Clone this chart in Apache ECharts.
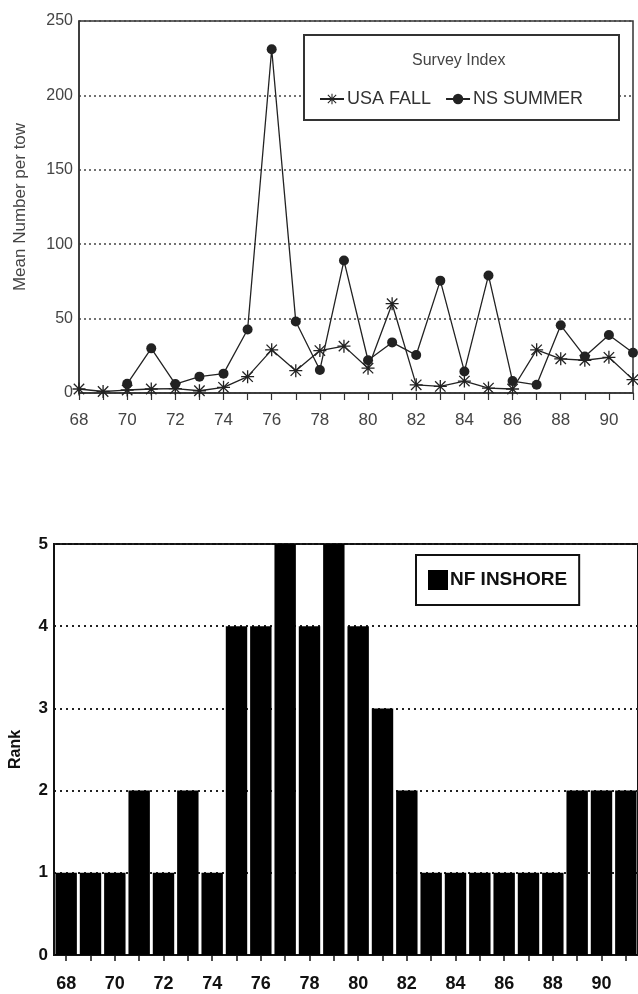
<!DOCTYPE html>
<html>
<head>
<meta charset="utf-8">
<script src="https://cdn.jsdelivr.net/npm/echarts@6/dist/echarts.min.js"></script>
<style>
html,body{margin:0;padding:0;background:#fff;}
#chart{width:638px;height:994px;}
</style>
</head>
<body>
<div id="chart"></div>
<script>
// ---- data ----
const years = [68,69,70,71,72,73,74,75,76,77,78,79,80,81,82,83,84,85,86,87,88,89,90,91];
const usaFall = [2.7,1,2,2.7,3,1.5,3.8,11,29,15,28.5,31.5,16.7,60,5.5,4.4,8,3.3,2.7,29,23,22,24,9];
const nsSummer = [null,null,6.2,30,6,11,13,42.7,231,48,15.5,89,22,34,25.5,75.5,14.5,79,8,5.5,45.5,24.5,39,27];
const nfInshoreRank = [1,1,1,2,1,2,1,4,4,5,4,5,4,3,2,1,1,1,1,1,1,2,2,2];

const FONT = '"Liberation Sans", Arial, Helvetica, sans-serif';
const asterisk = 'path://M0 9 L20 9 L20 11 L0 11 Z M9 0 L11 0 L11 20 L9 20 Z M1.3 2.7 L2.7 1.3 L18.7 17.3 L17.3 18.7 Z M17.3 1.3 L18.7 2.7 L2.7 18.7 L1.3 17.3 Z';

const pairs = (arr) => years.map((y, i) => [y, arr[i]]);

const chart = echarts.init(document.getElementById('chart'), null, {renderer: 'canvas'});

const option = {
  backgroundColor: '#fff',
  animation: false,
  textStyle: {fontFamily: FONT},
  grid: [
    {left: 79, top: 21, right: 5, height: 372, show: true, borderColor: '#333', borderWidth: 1.5, backgroundColor: 'transparent'},
    {left: 53, top: 544, width: 594, height: 411, show: true, borderColor: '#111', borderWidth: 2, backgroundColor: 'transparent'}
  ],
  xAxis: [
    {
      gridIndex: 0, type: 'value', min: 68, max: 91, interval: 1,
      axisLine: {lineStyle: {color: '#333', width: 1.5}},
      axisTick: {show: true, length: 7, lineStyle: {color: '#333', width: 1.2}},
      axisLabel: {color: '#444', fontSize: 17, margin: 19, fontFamily: FONT,
        formatter: v => (v % 2 === 0 && v < 91) ? String(v) : ''},
      splitLine: {show: false}
    },
    {
      gridIndex: 1, type: 'category', data: years.map(String), boundaryGap: true,
      axisLine: {lineStyle: {color: '#111', width: 2}},
      axisTick: {show: true, alignWithLabel: true, interval: 0, length: 6, lineStyle: {color: '#111', width: 1.5}},
      axisLabel: {color: '#111', fontSize: 18, fontWeight: 'bold', margin: 20, interval: 1, fontFamily: FONT}
    }
  ],
  yAxis: [
    {
      gridIndex: 0, type: 'value', min: 0, max: 250, interval: 50,
      name: 'Mean Number per tow', nameLocation: 'middle', nameGap: 50,
      nameTextStyle: {color: '#444', fontSize: 17, fontFamily: FONT},
      axisLine: {show: true, lineStyle: {color: '#333', width: 1.5}},
      axisTick: {show: false},
      axisLabel: {color: '#444', fontSize: 16, margin: 6, fontFamily: FONT},
      splitLine: {show: true, lineStyle: {color: '#444', width: 1.5, type: [2, 3]}}
    },
    {
      gridIndex: 1, type: 'value', min: 0, max: 5, interval: 1,
      name: 'Rank', nameLocation: 'middle', nameGap: 30,
      nameTextStyle: {color: '#111', fontSize: 16, fontWeight: 'bold', fontFamily: FONT},
      axisLine: {show: true, lineStyle: {color: '#111', width: 2}},
      axisTick: {show: false},
      axisLabel: {color: '#111', fontSize: 17, fontWeight: 'bold', margin: 6, fontFamily: FONT},
      splitLine: {show: true, lineStyle: {color: '#222', width: 2, type: [2, 4]}}
    }
  ],
  legend: [
    {
      data: ['USA FALL', 'NS SUMMER'],
      left: 314, top: 85, itemGap: 14, itemWidth: 24, itemHeight: 13,
      textStyle: {color: '#333', fontSize: 18, fontFamily: FONT, padding: [0,0,0,-2]},
      z: 20
    },
    {
      data: ['NF INSHORE'],
      left: 416, top: 555, icon: 'rect', itemWidth: 20, itemHeight: 20, itemGap: 4,
      padding: [15, 12, 15, 12],
      borderColor: '#111', borderWidth: 2, backgroundColor: '#fff',
      textStyle: {color: '#111', fontSize: 19, fontWeight: 'bold', fontFamily: FONT, padding: [0,0,0,-3]},
      z: 20
    }
  ],
  graphic: [
    {type: 'rect', left: 303, top: 34, z: 10,
      shape: {width: 315, height: 85},
      style: {fill: '#fff', stroke: '#333', lineWidth: 2}},
    {type: 'text', left: 412, top: 53, z: 11,
      style: {text: 'Survey Index', fill: '#444', font: '16px ' + FONT}}
  ],
  series: [
    {
      name: 'USA FALL', type: 'line', xAxisIndex: 0, yAxisIndex: 0,
      data: pairs(usaFall), symbol: asterisk, symbolSize: 13,
      lineStyle: {color: '#222', width: 1.3}, itemStyle: {color: '#222'}, z: 5
    },
    {
      name: 'NS SUMMER', type: 'line', xAxisIndex: 0, yAxisIndex: 0,
      data: pairs(nsSummer), symbol: 'circle', symbolSize: 10,
      lineStyle: {color: '#222', width: 1.3}, itemStyle: {color: '#222'}, z: 6
    },
    {
      name: 'NF INSHORE', type: 'bar', xAxisIndex: 1, yAxisIndex: 1,
      data: nfInshoreRank, barCategoryGap: '12%',
      itemStyle: {color: '#000'}, z: 3
    }
  ]
};
chart.setOption(option);
</script>
</body>
</html>
